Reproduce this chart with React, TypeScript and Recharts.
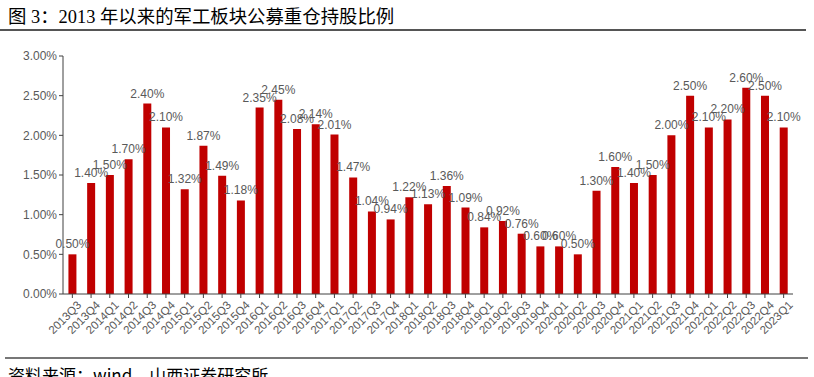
import { BarChart, Bar, XAxis, YAxis, LabelList } from 'recharts';

const quarters = [
  '2013Q3', '2013Q4',
  '2014Q1', '2014Q2', '2014Q3', '2014Q4',
  '2015Q1', '2015Q2', '2015Q3', '2015Q4',
  '2016Q1', '2016Q2', '2016Q3', '2016Q4',
  '2017Q1', '2017Q2', '2017Q3', '2017Q4',
  '2018Q1', '2018Q2', '2018Q3', '2018Q4',
  '2019Q1', '2019Q2', '2019Q3', '2019Q4',
  '2020Q1', '2020Q2', '2020Q3', '2020Q4',
  '2021Q1', '2021Q2', '2021Q3', '2021Q4',
  '2022Q1', '2022Q2', '2022Q3', '2022Q4',
  '2023Q1',
];

const holdingRatio = [
  0.5, 1.4,
  1.5, 1.7, 2.4, 2.1,
  1.32, 1.87, 1.49, 1.18,
  2.35, 2.45, 2.08, 2.14,
  2.01, 1.47, 1.04, 0.94,
  1.22, 1.13, 1.36, 1.09,
  0.84, 0.92, 0.76, 0.6,
  0.6, 0.5, 1.3, 1.6,
  1.4, 1.5, 2.0, 2.5,
  2.1, 2.2, 2.6, 2.5,
  2.1,
];

const yTicks = [0, 0.5, 1, 1.5, 2, 2.5, 3];

const data = quarters.map((q, i) => ({ quarter: q, ratio: holdingRatio[i] }));

const pct = (v: number) => `${Number(v).toFixed(2)}%`;

export default function App() {
  return (
    <div style={{ position: 'absolute', left: 0, top: 0, width: 814, height: 377, background: '#fff', overflow: 'hidden' }}>
      <div
        style={{
          position: 'absolute', left: 8, top: 2, fontSize: 18.4, color: '#000',
          fontFamily: '"Liberation Serif", "Noto Sans CJK SC", serif', whiteSpace: 'nowrap',
        }}
      >
        图 3：2013 年以来的军工板块公募重仓持股比例
      </div>
      <div style={{ position: 'absolute', left: 0, top: 29, width: 806, height: 2, background: '#555' }} />

      <div style={{ position: 'absolute', left: 0, top: 0 }}>
        <BarChart width={814} height={377} data={data} margin={{ top: 56, right: 21, left: 0, bottom: 23 }} barCategoryGap="29%">
          <XAxis
            dataKey="quarter"
            interval={0}
            angle={-45}
            textAnchor="end"
            height={60}
            tick={{ fontSize: 11.5, fill: '#595959', fontFamily: 'Arial, "Liberation Sans", sans-serif' }}
            tickLine={{ stroke: '#404040' }}
            axisLine={{ stroke: '#404040' }}
            tickSize={4}
            dx={4}
          />
          <YAxis
            domain={[0, 3]}
            ticks={yTicks}
            tickFormatter={pct}
            width={63}
            tick={{ fontSize: 12, fill: '#595959', fontFamily: 'Arial, "Liberation Sans", sans-serif' }}
            tickLine={{ stroke: '#404040' }}
            axisLine={{ stroke: '#404040' }}
            tickSize={4}
          />
          <Bar dataKey="ratio" fill="#C00000" isAnimationActive={false}>
            <LabelList
              dataKey="ratio"
              position="top"
              formatter={(v: any) => pct(v)}
              style={{ fontSize: 12, fill: '#595959', fontFamily: 'Arial, "Liberation Sans", sans-serif' }}
              offset={6}
            />
          </Bar>
        </BarChart>
      </div>

      <div style={{ position: 'absolute', left: 5, top: 357, width: 803, height: 2, background: '#777' }} />
      <div
        style={{
          position: 'absolute', left: 8, top: 362, fontSize: 17, color: '#000',
          fontFamily: '"Noto Sans CJK SC", sans-serif', whiteSpace: 'nowrap',
        }}
      >
        资料来源：wind，山西证券研究所
      </div>
    </div>
  );
}
